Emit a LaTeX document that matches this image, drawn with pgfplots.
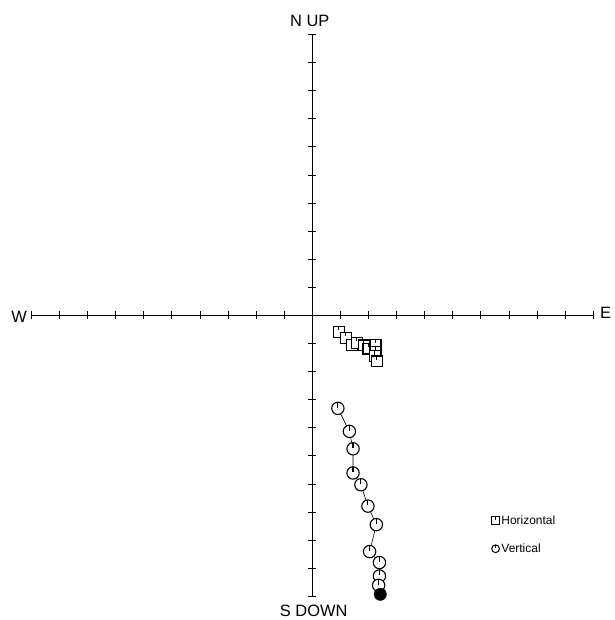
\documentclass[border=0pt]{standalone}
\usepackage{fontspec}
\setmainfont{Liberation Sans}
\usepackage{pgfplots}
\pgfplotsset{compat=1.18}

\pgfdeclareplotmark{sqtick}{%
  \pgfpathrectangle{\pgfpoint{-\pgfplotmarksize}{-\pgfplotmarksize}}{\pgfpoint{2\pgfplotmarksize}{2\pgfplotmarksize}}%
  \pgfusepathqfillstroke
  \pgfpathmoveto{\pgfpoint{0pt}{\pgfplotmarksize}}%
  \pgfpathlineto{\pgfpoint{0pt}{0.25\pgfplotmarksize}}%
  \pgfusepathqstroke}
\pgfdeclareplotmark{circtick}{%
  \pgfpathcircle{\pgfpoint{0pt}{0pt}}{\pgfplotmarksize}%
  \pgfusepathqfillstroke
  \pgfpathmoveto{\pgfpoint{0pt}{\pgfplotmarksize}}%
  \pgfpathlineto{\pgfpoint{0pt}{0.1\pgfplotmarksize}}%
  \pgfusepathqstroke}
\pgfplotsset{
  sqleg/.style={legend image code/.code={\draw[##1, only marks, mark size=3.7pt, mark options={fill=white, solid, line width=1pt}] plot coordinates {(0.1cm,0cm)};}},
  circleg/.style={legend image code/.code={\draw[##1, only marks, mark size=3.9pt, mark options={fill=white, solid, line width=1pt}] plot coordinates {(0.1cm,0cm)};}},
}

\begin{document}
\begin{tikzpicture}
\begin{axis}[
  x=28.2pt, y=28.2pt,
  xmin=-10, xmax=10, ymin=-10, ymax=10,
  enlargelimits=false,
  axis lines=middle,
  axis line style={-, line width=1.5pt},
  xtick={-10,...,10}, ytick={-10,...,10},
  xticklabels={}, yticklabels={},
  major tick length=8pt,
  tick align=center,
  tick style={black, line width=0.8pt},
  clip=false,
  legend style={at={(axis cs:6.38,-7.05)}, anchor=north west, draw=none, fill=none,
    font=\fontsize{12}{14}\selectfont, row sep=14pt, inner sep=0pt, cells={anchor=west}},
]
\addplot[black, line width=0.6pt, mark=sqtick, mark size=5.5pt, mark options={fill=white, solid, line width=1.1pt}, sqleg]
coordinates {
(0.94,-0.58) (1.19,-0.79) (1.40,-1.04) (1.58,-0.97) (1.83,-1.07) (2.00,-1.18)
(2.25,-1.04) (2.25,-1.29) (2.22,-1.46) (2.29,-1.64)
};
\addlegendentry{Horizontal}
\addplot[black, line width=0.6pt, mark=circtick, mark size=6.2pt, mark options={fill=white, solid, line width=1.1pt}, circleg]
coordinates {
(0.91,-3.31) (1.32,-4.13) (1.45,-4.75) (1.45,-5.61) (1.73,-6.03) (1.98,-6.79)
(2.28,-7.45) (2.04,-8.41) (2.39,-8.80) (2.39,-9.28) (2.36,-9.61)
};
\addlegendentry{Vertical}
\addplot[black, only marks, mark=*, mark size=6.2pt, forget plot] coordinates {(2.42,-9.93)};
\node[font=\fontsize{16.5}{19}\selectfont] at (axis cs:-0.09,10.50) {N UP};
\node[font=\fontsize{16.5}{19}\selectfont] at (axis cs:0.05,-10.52) {S DOWN};
\node[font=\fontsize{16.5}{19}\selectfont] at (axis cs:-10.44,-0.05) {W};
\node[font=\fontsize{16.5}{19}\selectfont] at (axis cs:10.44,0.10) {E};
\path (axis cs:-11.12,-10.76) rectangle (axis cs:10.69,11.23);
\end{axis}
\end{tikzpicture}
\end{document}
